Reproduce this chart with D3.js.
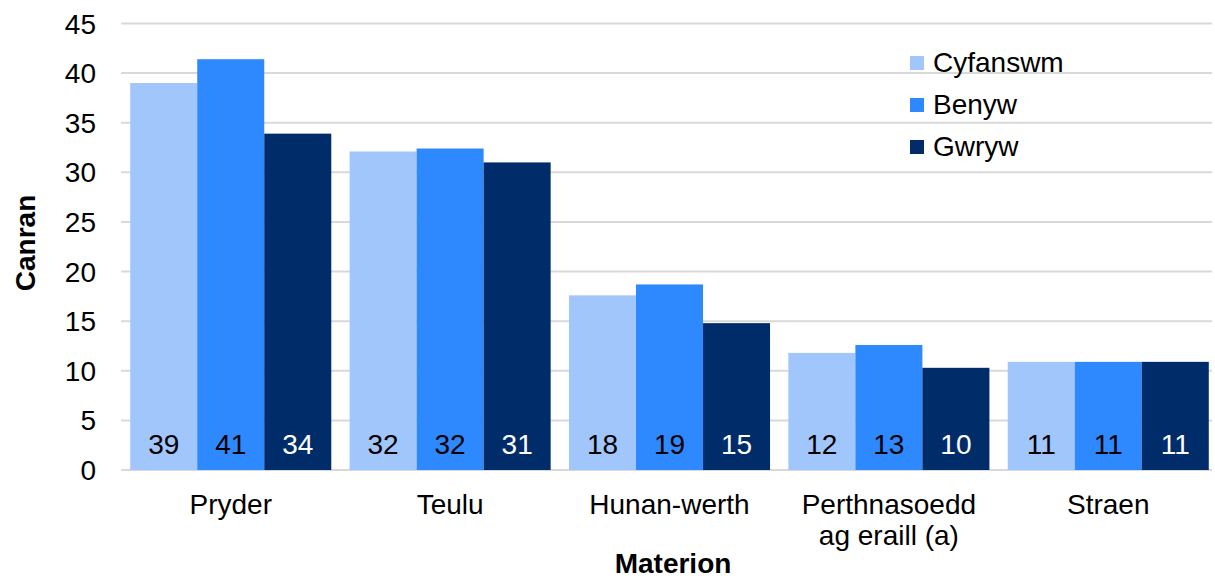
<!DOCTYPE html>
<html>
<head>
<meta charset="utf-8">
<script src="https://cdn.jsdelivr.net/npm/d3@7"></script>
<style>
	body { margin: 0; background: #fff; }
	text { font-family: 'Liberation Sans', Arial, sans-serif; fill: #000; }
</style>
</head>
<body>
<script>
const CATEGORIES = [['Pryder'], ['Teulu'], ['Hunan-werth'], ['Perthnasoedd', 'ag eraill (a)'], ['Straen']];
const SERIES = ['Cyfanswm', 'Benyw', 'Gwryw'];
const CYFANSWM = [39.0, 32.1, 17.6, 11.8, 10.9];
const BENYW = [41.4, 32.4, 18.7, 12.6, 10.9];
const GWRYW = [33.9, 31.0, 14.8, 10.3, 10.9];
const Y_TICKS = [0, 5, 10, 15, 20, 25, 30, 35, 40, 45];

const PALETTE = ['#a0c6fc', '#2e88fe', '#002d6a'];
const LABEL_COLOURS = ['#000', '#000', '#fff'];
const VALUES = [CYFANSWM, BENYW, GWRYW];

const width = 1215, height = 580;
const plotLeft = 121, plotRight = 1212, plotTop = 23.5, plotBottom = 470;
const FONT = '28px';

let svg = d3.select('body').append('svg')
	.attr('width', width)
	.attr('height', height);

let y = d3.scaleLinear()
	.domain([0, 45])
	.range([plotBottom, plotTop]);

let x0 = d3.scaleBand()
	.domain(CATEGORIES.map(c => c.join(' ')))
	.range([plotLeft, plotLeft + 5 * 219.4])
	.paddingInner(0.0835)
	.paddingOuter(0.042);

let x1 = d3.scaleBand()
	.domain(SERIES)
	.range([0, x0.bandwidth()]);

// gridlines
svg.append('g')
	.selectAll('line')
	.data(Y_TICKS)
	.enter()
	.append('line')
	.attr('x1', plotLeft)
	.attr('x2', plotRight)
	.attr('y1', t => y(t))
	.attr('y2', t => y(t))
	.attr('stroke', '#d9d9d9')
	.attr('stroke-width', 2);

// y tick labels
svg.append('g')
	.selectAll('text')
	.data(Y_TICKS)
	.enter()
	.append('text')
	.attr('x', 96)
	.attr('y', t => y(t) + 10)
	.attr('text-anchor', 'end')
	.style('font-size', FONT)
	.text(t => t);

// bars
let groups = svg.append('g')
	.selectAll('g')
	.data(CATEGORIES)
	.enter()
	.append('g')
	.attr('transform', c => `translate(${x0(c.join(' '))}, 0)`);

groups.selectAll('rect')
	.data((c, i) => SERIES.map((s, j) => ({ series: s, index: j, value: VALUES[j][i] })))
	.enter()
	.append('rect')
	.attr('x', d => x1(d.series))
	.attr('y', d => y(d.value))
	.attr('width', x1.bandwidth())
	.attr('height', d => plotBottom - y(d.value))
	.attr('fill', d => PALETTE[d.index]);

groups.selectAll('text.value')
	.data((c, i) => SERIES.map((s, j) => ({ series: s, index: j, value: VALUES[j][i] })))
	.enter()
	.append('text')
	.attr('class', 'value')
	.attr('x', d => x1(d.series) + x1.bandwidth() / 2)
	.attr('y', plotBottom - 16)
	.attr('text-anchor', 'middle')
	.style('font-size', FONT)
	.style('fill', d => LABEL_COLOURS[d.index])
	.text(d => Math.round(d.value));

// category labels
groups.append('text')
	.attr('text-anchor', 'middle')
	.style('font-size', FONT)
	.selectAll('tspan')
	.data(c => c)
	.enter()
	.append('tspan')
	.attr('x', x0.bandwidth() / 2)
	.attr('y', (line, i) => 514 + i * 31)
	.text(line => line);

// axis titles
svg.append('text')
	.attr('x', 673)
	.attr('y', 573)
	.attr('text-anchor', 'middle')
	.style('font-size', FONT)
	.style('font-weight', 'bold')
	.text('Materion');

svg.append('text')
	.attr('transform', 'translate(35, 243) rotate(-90)')
	.attr('text-anchor', 'middle')
	.style('font-size', FONT)
	.style('font-weight', 'bold')
	.text('Canran');

// legend
let legend = svg.append('g')
	.selectAll('g')
	.data(SERIES)
	.enter()
	.append('g')
	.attr('transform', (s, i) => `translate(910, ${62 + i * 42})`);

legend.append('rect')
	.attr('y', -6)
	.attr('width', 14)
	.attr('height', 14)
	.attr('fill', (s, i) => PALETTE[i]);

legend.append('text')
	.attr('x', 23)
	.attr('y', 10)
	.style('font-size', FONT)
	.text(s => s);
</script>
</body>
</html>
